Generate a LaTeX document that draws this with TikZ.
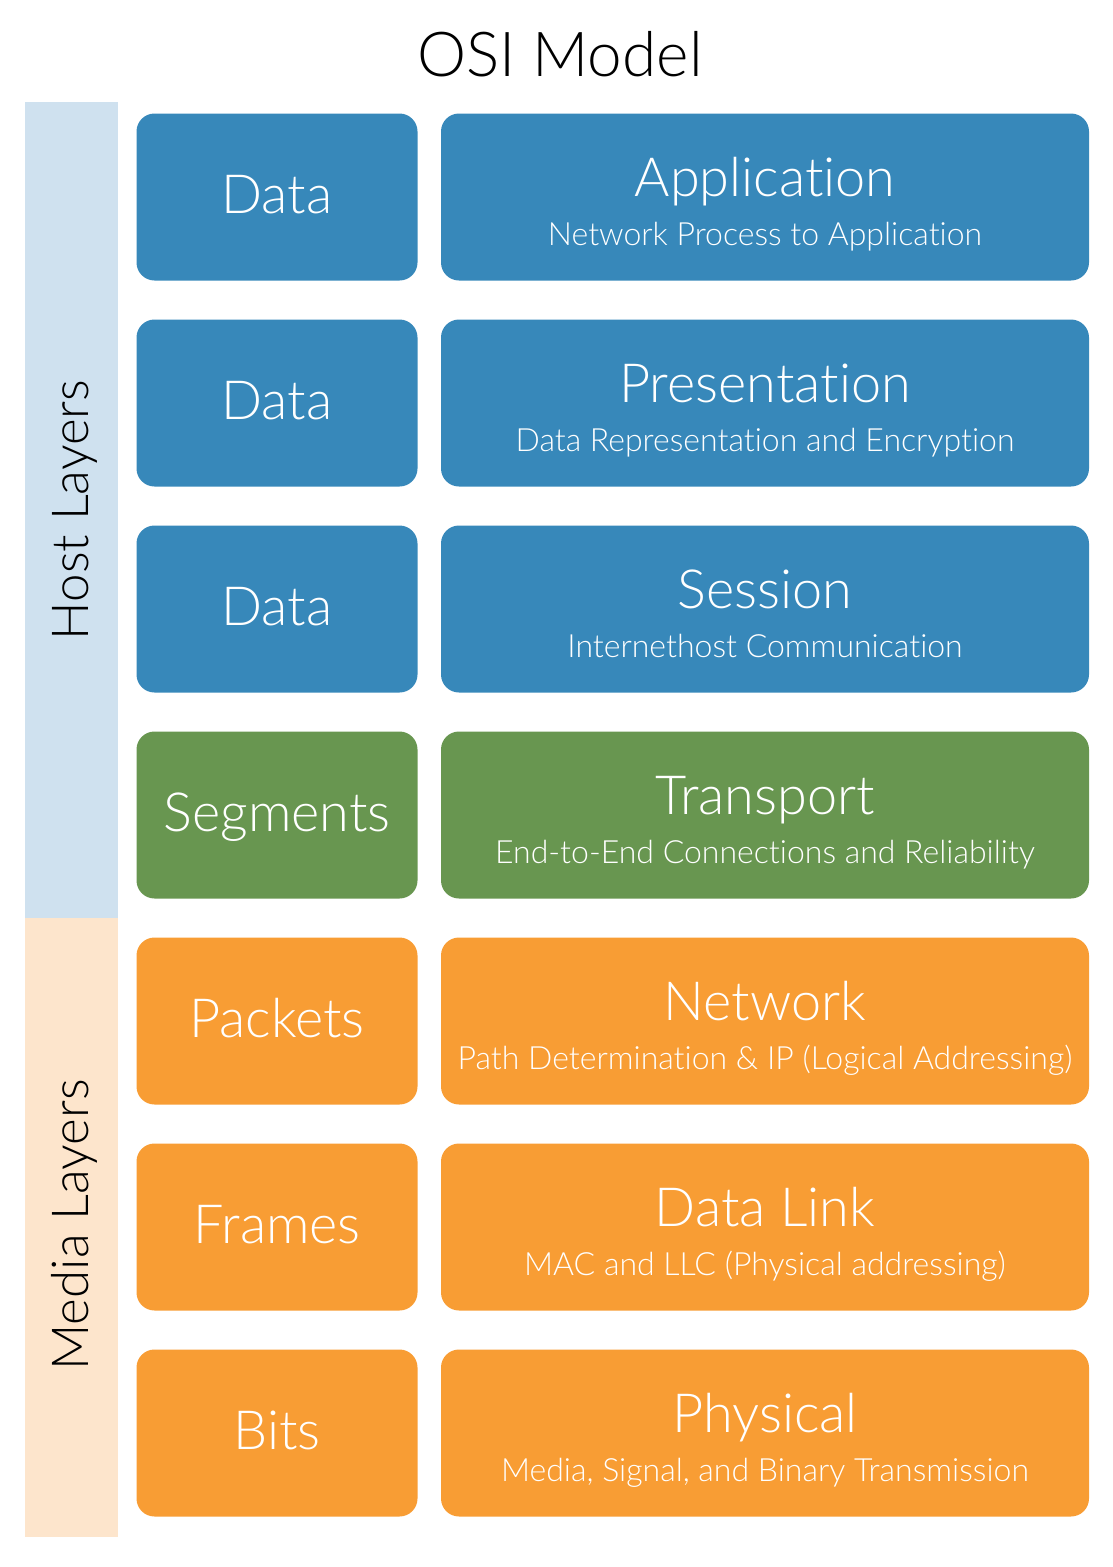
\documentclass[tikz,border=0pt]{standalone}
\usepackage{fontspec}
\setmainfont{Lato Light}[Ligatures={NoCommon}]

\definecolor{hostband}{HTML}{CFE1EF}
\definecolor{mediaband}{HTML}{FDE5CC}
\definecolor{hostblue}{HTML}{3788BA}
\definecolor{transgreen}{HTML}{689650}
\definecolor{mediaorange}{HTML}{F89D34}

\tikzset{
  unitbox/.style={rounded corners=18pt, minimum width=281pt, minimum height=167pt, inner sep=0pt},
  layerbox/.style={rounded corners=18pt, minimum width=648pt, minimum height=167pt, inner sep=0pt},
  unittext/.style={anchor=base, text=white, font=\fontsize{54}{60}\selectfont},
  layertext/.style={anchor=base, text=white, font=\fontsize{54}{60}\selectfont},
  subtext/.style={anchor=base, text=white, font=\fontsize{32}{36}\selectfont},
  bandtext/.style={anchor=base, rotate=90, font=\fontsize{51}{56}\selectfont}
}

\begin{document}
\begin{tikzpicture}[x=1pt,y=-1pt]
\useasboundingbox (0,0) rectangle (1112,1567);

\node[anchor=base, font=\fontsize{62}{70}\selectfont] (title) at (560,76) {OSI Model};

\fill[hostband] (25,102) rectangle (118,918);
\fill[mediaband] (25,918) rectangle (118,1537);
\node[bandtext] (host) at (88,510) {Host Layers};
\node[bandtext] (media) at (88,1225) {Media Layers};

\node[unitbox, fill=hostblue] (u7) at (277,197) {};
\node[unitbox, fill=hostblue] (u6) at (277,403) {};
\node[unitbox, fill=hostblue] (u5) at (277,609) {};
\node[unitbox, fill=transgreen] (u4) at (277,815) {};
\node[unitbox, fill=mediaorange] (u3) at (277,1021) {};
\node[unitbox, fill=mediaorange] (u2) at (277,1227) {};
\node[unitbox, fill=mediaorange] (u1) at (277,1433) {};

\node[unittext] at (277,213) {Data};
\node[unittext] at (277,419) {Data};
\node[unittext] at (277,625) {Data};
\node[unittext] at (277,831) {Segments};
\node[unittext] at (277,1037) {Packets};
\node[unittext] at (277,1243) {Frames};
\node[unittext] at (277,1449) {Bits};

\node[layerbox, fill=hostblue] (l7) at (765,197) {};
\node[layerbox, fill=hostblue] (l6) at (765,403) {};
\node[layerbox, fill=hostblue] (l5) at (765,609) {};
\node[layerbox, fill=transgreen] (l4) at (765,815) {};
\node[layerbox, fill=mediaorange] (l3) at (765,1021) {};
\node[layerbox, fill=mediaorange] (l2) at (765,1227) {};
\node[layerbox, fill=mediaorange] (l1) at (765,1433) {};

\node[layertext] at (765,196) {Application};
\node[subtext] at (765,245) {Network Process to Application};
\node[layertext] at (765,402) {Presentation};
\node[subtext] at (765,451) {Data Representation and Encryption};
\node[layertext] at (765,608) {Session};
\node[subtext] at (765,657) {Internethost Communication};
\node[layertext] at (765,814) {Transport};
\node[subtext] at (765,863) {End-to-End Connections and Reliability};
\node[layertext] at (765,1020) {Network};
\node[subtext] at (765,1069) {Path Determination \& IP (Logical Addressing)};
\node[layertext] at (765,1226) {Data Link};
\node[subtext] at (765,1275) {MAC and LLC (Physical addressing)};
\node[layertext] at (765,1432) {Physical};
\node[subtext] at (765,1481) {Media, Signal, and Binary Transmission};
\end{tikzpicture}
\end{document}
